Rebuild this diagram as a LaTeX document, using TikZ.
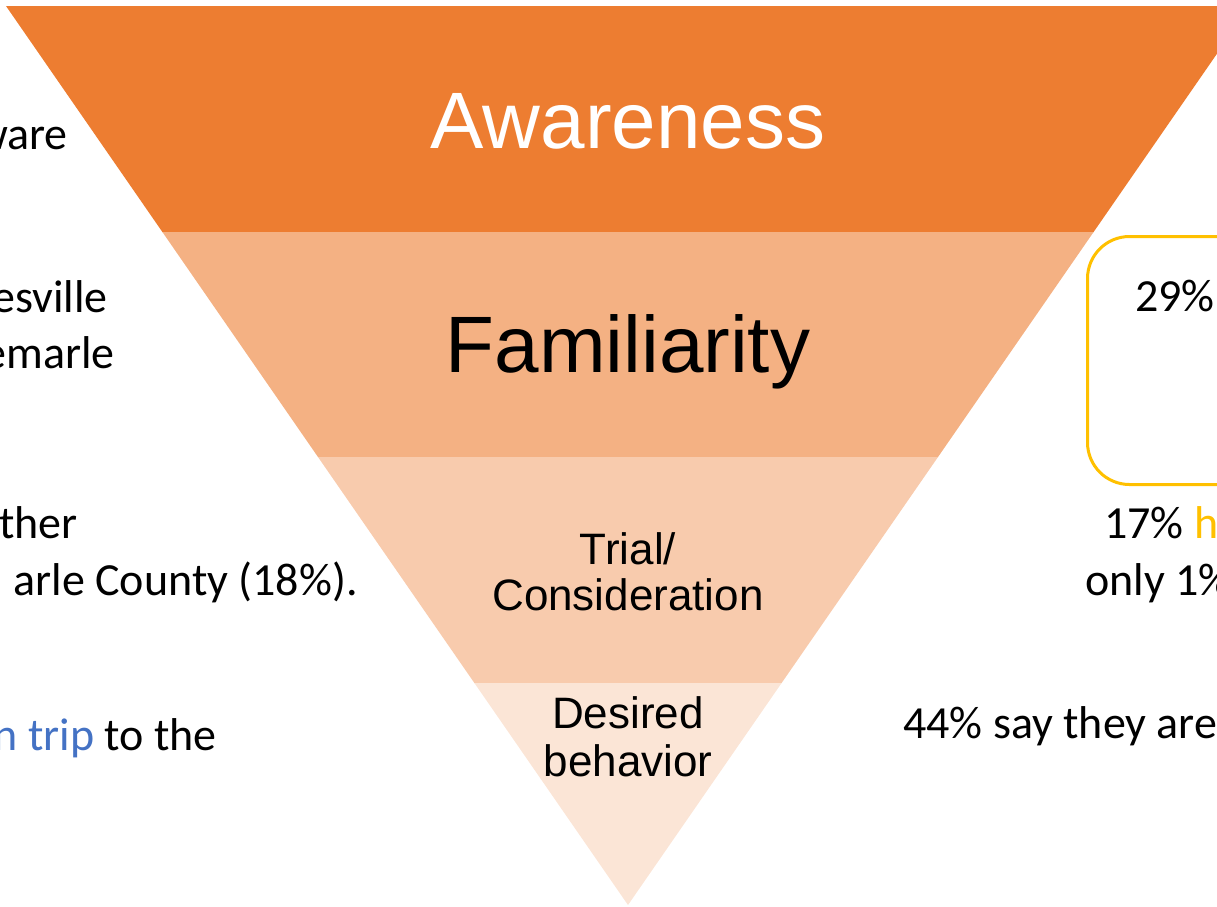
\documentclass[tikz,border=0pt]{standalone}
\usepackage{fontspec}
\setmainfont{Carlito}
\newfontfamily\stagefont{Liberation Sans}

\definecolor{bandA}{HTML}{ED7D31}
\definecolor{bandB}{HTML}{F4B183}
\definecolor{bandC}{HTML}{F8CBAD}
\definecolor{bandD}{HTML}{FBE5D6}
\definecolor{boxyellow}{HTML}{FFC000}
\definecolor{linkblue}{HTML}{4472C4}

\begin{document}
\begin{tikzpicture}
	[x=1pt,y=-1pt,
	 side/.style={inner sep=0pt,font=\fontsize{46}{57}\selectfont},
	 stage/.style={inner sep=0pt,align=center,font=\stagefont}]

	\clip (0,0) rectangle (1217,906);

	% funnel bands, top to bottom
	\fill[bandA] (6,6) -- (1250,6) -- (1093.6,232) -- (162.4,232) -- cycle;
	\fill[bandB] (162.4,232) -- (1093.6,232) -- (938,457) -- (318,457) -- cycle;
	\fill[bandC] (318,457) -- (938,457) -- (781.6,683) -- (474.4,683) -- cycle;
	\fill[bandD] (474.4,683) -- (781.6,683) -- (628,905) -- cycle;

	\node[stage,anchor=base,text=white,font=\stagefont\fontsize{80}{90}\selectfont] (aware) at (628,148) {Awareness};
	\node[stage,anchor=base,font=\stagefont\fontsize{80}{90}\selectfont] (famil) at (628,372) {Familiarity};
	\node[stage,font=\stagefont\fontsize{44}{46}\selectfont] (trial) at (628,572) {Trial/\\Consideration};
	\node[stage,font=\stagefont\fontsize{44}{48}\selectfont] (desire) at (628,737) {Desired\\behavior};

	% left column
	\node[side,anchor=base east] (l1) at (68,149) {ware};
	\node[side,anchor=base east] (l2) at (108,312) {esville};
	\node[side,anchor=base east] (l3) at (115,368) {emarle};
	\node[side,anchor=base east] (l4) at (78,538) {ther};
	\node[side,anchor=base east] (l5) at (358,595) {arle County (18\%).};
	\node[side,anchor=base east] (l6) at (217,750) {\textcolor{linkblue}{n trip} to the};

	% right column
	\node[draw=boxyellow,line width=3pt,rounded corners=42pt,anchor=north west,
	      minimum width=260pt,minimum height=248pt] (box) at (1086,235) {};
	\node[side,anchor=base west] (r1) at (1135,311) {29\%};
	\node[side,anchor=base west] (r2) at (1104,538) {17\% \textcolor{boxyellow}{h}};
	\node[side,anchor=base west] (r3) at (1085,595) {only 1\%};
	\node[side,anchor=base west] (r4) at (903,738) {44\% say they are};
\end{tikzpicture}
\end{document}
